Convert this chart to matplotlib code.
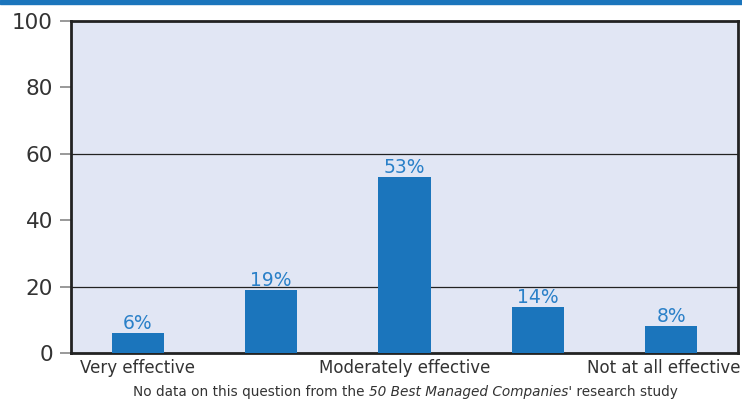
import matplotlib.pyplot as plt
import matplotlib.patches as mpatches
from matplotlib.transforms import offset_copy, ScaledTranslation

categories = ["Very effective", "Somewhat effective", "Moderately effective",
              "Slightly effective", "Not at all effective"]
values = [6, 19, 53, 14, 8]
shown_labels = ["Very effective", "", "Moderately effective", "", "Not at all effective"]
yticks = [0, 20, 40, 60, 80, 100]
grid_at = [20, 60]

BAR = "#1b75bc"
LABEL = "#2a80c8"
BG = "#e1e6f4"
INK = "#222222"
TXT = "#333333"

plt.rcParams["font.family"] = ["DejaVu Sans"]

fig = plt.figure(figsize=(7.42, 3.99), dpi=100)
W, H = 742, 399
ax = fig.add_axes([71 / W, 1 - 353 / H, 667 / W, 332 / H])
ax.set_facecolor(BG)

# blue band across the top
fig.add_artist(mpatches.Rectangle((0, 1 - 4 / H), 1, 4 / H, transform=fig.transFigure,
                                  color=BAR, zorder=0))

x = range(len(categories))
ax.bar(x, values, width=0.39, color=BAR, zorder=3)
lift = offset_copy(ax.transData, fig=fig, x=0, y=4, units="dots")
for xi, v in zip(x, values):
    ax.text(xi, v, f"{v}%", ha="center", va="baseline", fontsize=13.5,
            color=LABEL, transform=lift, zorder=4)

for g in grid_at:
    ax.axhline(g, color=INK, linewidth=0.9, zorder=1)

ax.set_xlim(-0.5, len(categories) - 0.5)
ax.set_ylim(0, 100)
ax.set_yticks(yticks)
ax.set_yticklabels([str(t) for t in yticks], fontsize=15.5, color=TXT)
ax.tick_params(axis="y", length=8, width=1.2, color="#888888", pad=5)
ax.set_xticks(list(x))
ax.set_xticklabels(shown_labels, fontsize=12, color=TXT)
ax.tick_params(axis="x", length=0, pad=4)

# pull the last category label in so it stays inside the figure
last = ax.get_xticklabels()[-1]
last.set_transform(last.get_transform() + ScaledTranslation(-8 / 100, 0, fig.dpi_scale_trans))

for s in ax.spines.values():
    s.set_color(INK)
    s.set_linewidth(2)

# footnote with italic study name
t1 = fig.text(133 / W, 1 - 392 / H, "No data on this question from the ",
              fontsize=9.8, color=TXT, va="center")
t2 = ax.annotate("50 Best Managed Companies'", xy=(1, 0), xycoords=t1,
                 fontsize=9.8, style="italic", color=TXT, va="bottom")
ax.annotate(" research study", xy=(1, 0), xycoords=t2,
            fontsize=9.8, color=TXT, va="bottom")

fig.savefig("out.png", dpi=100)
